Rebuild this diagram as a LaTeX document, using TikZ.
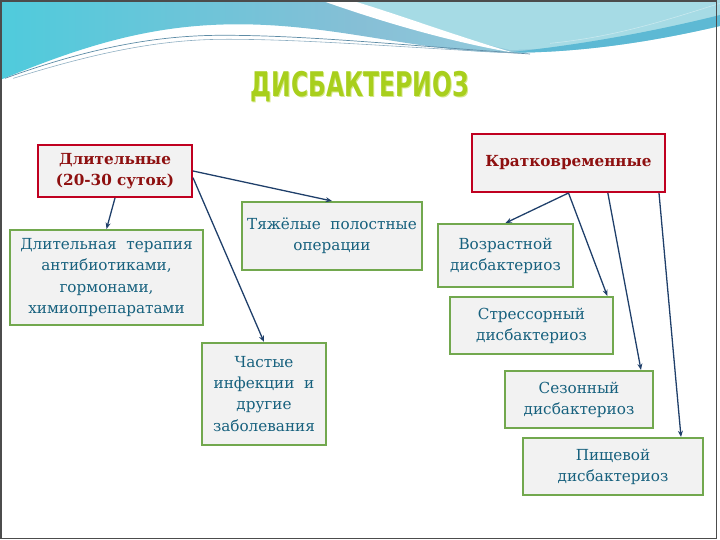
\documentclass[tikz,border=0pt]{standalone}
\usepackage{fontspec}
\setmainfont{DejaVu Serif}
\newfontfamily\titrefont{DejaVu Sans}
\usepackage{tikz}
\usetikzlibrary{arrows.meta, positioning, calc}

\definecolor{bleuvague}{HTML}{86BFD6}
\definecolor{cyanvague}{HTML}{4FCBDC}
\definecolor{ciel}{HTML}{A6DBE5}
\definecolor{bande}{HTML}{5DB9D4}
\definecolor{filet}{HTML}{5E8CA6}
\definecolor{rougecadre}{HTML}{C00020}
\definecolor{rougetexte}{HTML}{8E1010}
\definecolor{vertcadre}{HTML}{72A84E}
\definecolor{texteleu}{HTML}{17617E}
\definecolor{fleche}{HTML}{1F3F6A}
\definecolor{titrevert}{HTML}{A8CF1C}
\definecolor{titreombre}{HTML}{D6E88A}

\begin{document}
\begin{tikzpicture}[
  font=\fontsize{13}{18}\selectfont,
  x=1cm, y=1cm,
  groupe/.style={
    draw=rougecadre, line width=1.7pt, fill=black!5,
    text=rougetexte, font=\fontsize{13}{18}\selectfont\bfseries,
    align=center, inner sep=2pt
  },
  cause/.style={
    draw=vertcadre, line width=1.7pt, fill=black!5,
    text=texteleu, align=center, inner sep=2pt
  },
  lien/.style={
    -{Stealth[length=1.9mm, width=1.5mm]},
    draw=fleche, line width=1.1pt
  }
]
\useasboundingbox (0,0) rectangle (21.6,16.2);

% ----- Bandeau du haut -----
\shade[left color=cyanvague, right color=ciel, middle color=bleuvague]
  (0,16.2) -- (21.6,16.2) -- (21.6,15.42)
  .. controls (19.8,15.0) and (17.5,14.6) .. (15.15,14.62)
  .. controls (12.5,14.65) and (10,15.5) .. (7,15.47)
  .. controls (4.3,15.45) and (2.2,14.7) .. (0,13.8) -- cycle;
\fill[ciel] (10.4,16.2) -- (21.6,16.2) -- (21.6,15.5)
  .. controls (19.8,15.1) and (17.5,14.75) .. (15.3,14.7)
  .. controls (13.5,15.1) and (12,15.7) .. (10.4,16.2) -- cycle;
\fill[bande] (15.15,14.62)
  .. controls (17.5,14.6) and (19.8,15.0) .. (21.6,15.42) -- (21.6,15.75)
  .. controls (19.8,15.3) and (17.5,14.85) .. (15.15,14.62) -- cycle;
\fill[white] (9.6,16.2) .. controls (11,15.7) and (13.2,15.0) .. (15.4,14.62)
  .. controls (13.6,15.15) and (12,15.75) .. (10.5,16.2) -- cycle;
\draw[ciel!60!white, line width=0.5pt]
  (16.5,14.9) .. controls (18.5,15.1) and (20,15.6) .. (21.6,16.1);
\draw[filet, line width=0.6pt]
  (0.15,13.85) .. controls (2.5,14.7) and (4.5,15.12) .. (6.5,15.14)
  .. controls (9,15.16) and (12,14.85) .. (15.9,14.58);
\draw[filet!70!white, line width=0.5pt]
  (0.4,13.85) .. controls (2.8,14.6) and (4.7,15.0) .. (6.6,15.02)
  .. controls (9,15.04) and (12,14.78) .. (15.6,14.6);

% ----- Titre -----
\node[text=titreombre, font=\titrefont\bfseries\fontsize{29}{32}\selectfont]
  (ombre) at (10.82,13.57) {\scalebox{0.69}[1]{ДИСБАКТЕРИОЗ}};
\node[text=titrevert, font=\titrefont\bfseries\fontsize{29}{32}\selectfont]
  (titre) at (10.8,13.6) {\scalebox{0.69}[1]{ДИСБАКТЕРИОЗ}};

% ----- Длительные -----
\node[groupe, minimum width=4.62cm, minimum height=1.56cm] (dlit) at (3.45,11.07)
  {Длительные\\(20-30 суток)};
\node[cause, minimum width=5.79cm, minimum height=2.85cm] (terapia) at (3.195,7.875)
  {Длительная \ терапия\\антибиотиками,\\гормонами,\\химиопрепаратами};
\node[cause, minimum width=5.40cm, minimum height=2.04cm] (operacii) at (9.96,9.12)
  {Тяжёлые \ полостные\\операции};
\node[cause, minimum width=3.72cm, minimum height=3.06cm] (infekcii) at (7.92,4.38)
  {Частые\\инфекции \ и\\другие\\заболевания};

\draw[lien] (dlit.south) -- (terapia.north);
\draw[lien] (dlit.east) -- (operacii.north);
\draw[lien] ([yshift=-2mm]dlit.east) -- (infekcii.north);

% ----- Кратковременные -----
\node[groupe, minimum width=5.79cm, minimum height=1.74cm] (kratk) at (17.055,11.31)
  {Кратковременные};
\node[cause, minimum width=4.05cm, minimum height=1.89cm] (vozrast) at (15.165,8.535)
  {Возрастной\\дисбактериоз};
\node[cause, minimum width=4.89cm, minimum height=1.71cm] (stress) at (15.945,6.435)
  {Стрессорный\\дисбактериоз};
\node[cause, minimum width=4.44cm, minimum height=1.71cm] (sezon) at (17.37,4.215)
  {Сезонный\\дисбактериоз};
\node[cause, minimum width=5.40cm, minimum height=1.71cm] (pischa) at (18.39,2.205)
  {Пищевой\\дисбактериоз};

\draw[lien] (kratk.south) -- (vozrast.north);
\draw[lien] (kratk.south) -- ([xshift=-2mm]stress.north east);
\draw[lien] ([xshift=1.18cm]kratk.south) -- ([xshift=-3.9mm]sezon.north east);
\draw[lien] ([xshift=-2.1mm]kratk.south east) -- ([xshift=-6.9mm]pischa.north east);

% ----- Cadre de la diapositive -----
\draw[black!70, line width=1pt] (0.03,0.04) rectangle (21.5,16.17);

\end{tikzpicture}
\end{document}
